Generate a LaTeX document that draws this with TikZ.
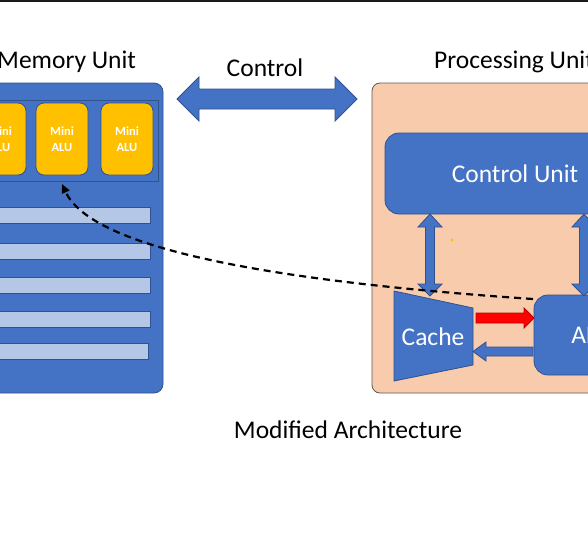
\documentclass[tikz,border=0pt]{standalone}
\usepackage{fontspec}
\setmainfont{Carlito}
\usetikzlibrary{arrows.meta}
\definecolor{bfill}{HTML}{4472C4}
\definecolor{bdark}{HTML}{2F528F}
\definecolor{rowfill}{HTML}{B4C7E7}
\definecolor{peach}{HTML}{F8CBAD}
\definecolor{peachline}{HTML}{595959}
\definecolor{minifill}{HTML}{FFC000}
\definecolor{redfill}{HTML}{FF0000}
\definecolor{redline}{HTML}{C00000}
\definecolor{topline}{HTML}{1A1A1A}
\begin{document}
\begin{tikzpicture}[x=1pt,y=-1pt,
  bigfont/.style={font=\fontsize{25.5}{30}\selectfont},
  lbl/.style={bigfont, text=black, inner sep=0pt},
  bluebox/.style={draw=bdark, fill=bfill, line width=0.8pt, inner sep=0pt},
  minibox/.style={draw=bdark, fill=minifill, line width=0.8pt, rounded corners=8pt, inner sep=0pt,
     minimum width=52pt, minimum height=72pt, align=center, text=white,
     font=\fontsize{12.5}{15.5}\selectfont\bfseries},
  rowbox/.style={draw=bdark, fill=rowfill, line width=0.8pt, inner sep=0pt, minimum height=16pt},
  blk/.style={fill=bfill, draw=bdark, line width=0.8pt, line join=miter},
  redblk/.style={fill=redfill, draw=redline, line width=0.8pt},
  dashline/.style={draw=black, line width=2.2pt, dash pattern=on 7pt off 5pt,
     -{Triangle[length=9pt,width=8pt]}}]
\clip (0,0) rectangle (588,535);
\fill[white] (0,0) rectangle (588,535);
\fill[topline] (0,0) rectangle (588,1.6);

% Memory unit
\node[bluebox, rounded corners=9pt, minimum width=183pt, minimum height=310pt] (mem) at (71.5,238) {};
\node[draw=bdark, line width=0.8pt, fill=bfill, inner sep=0pt, minimum width=168pt, minimum height=81pt] (panel) at (74,140.5) {};
\node[minibox] (mini1) at (0,139) {Mini\\ALU};
\node[minibox] (mini2) at (62,139) {Mini\\ALU};
\node[minibox] (mini3) at (127,139) {Mini\\ALU};
\node[rowbox, minimum width=160pt] (row1) at (70,215) {};
\node[rowbox, minimum width=160pt] (row2) at (70,251) {};
\node[rowbox, minimum width=160pt] (row3) at (70,285) {};
\node[rowbox, minimum width=160pt] (row4) at (70,319) {};
\node[rowbox, minimum width=158pt] (row5) at (69,351) {};
\node[lbl, anchor=base west] (memlbl) at (-3,68) {Memory Unit};

% Control double arrow
\draw[blk] (177,99) -- (199,77) -- (199,89) -- (335,89) -- (335,77) -- (357,99)
  -- (335,121) -- (335,109) -- (199,109) -- (199,121) -- cycle;
\node[lbl, anchor=base] (ctrllbl) at (265,76) {Control};

% Processing unit
\node[draw=peachline, fill=peach, line width=0.8pt, rounded corners=8pt, inner sep=0pt,
  minimum width=288pt, minimum height=310pt] (proc) at (516,238) {};
\node[lbl, anchor=base west] (proclbl) at (434,68) {Processing Unit};
\node[bluebox, rounded corners=14pt, minimum width=260pt, minimum height=81pt,
  bigfont, text=white] (cu) at (515,173.5) {Control Unit};
\node[bluebox, rounded corners=14pt, minimum width=116pt, minimum height=80pt,
  bigfont, text=white] (alu) at (592,335) {ALU};

% vertical double arrows
\draw[blk] (430,214) -- (442,227) -- (434.5,227) -- (434.5,284) -- (442,284) -- (430,296)
  -- (418,284) -- (425.5,284) -- (425.5,227) -- (418,227) -- cycle;
\draw[blk] (584,214) -- (596,227) -- (588.5,227) -- (588.5,284) -- (596,284) -- (584,296)
  -- (572,284) -- (579.5,284) -- (579.5,227) -- (572,227) -- cycle;

% Cache
\draw[blk] (394,291) -- (473,308) -- (473,365) -- (394,381) -- cycle;
\node[lbl, anchor=base, text=white] (cache) at (433,345) {Cache};

% red arrow cache -> ALU
\draw[redblk] (476,313) -- (524,313) -- (524,308) -- (534,318) -- (524,328) -- (524,323) -- (476,323) -- cycle;
% blue arrow ALU -> cache
\draw[blk] (533,347) -- (486,347) -- (486,342) -- (473,351.5) -- (486,361) -- (486,356) -- (533,356) -- cycle;

% orange dot
\fill[minifill] (452,240) circle (1.6pt);

% dashed curve
\coordinate (dstart) at (533,299);
\coordinate (dend) at (62,184);
\draw[dashline] (dstart) .. controls (250,280) and (90,245) .. (dend);

\node[lbl, anchor=base] (title) at (348,438) {Modified Architecture};
\end{tikzpicture}
\end{document}
